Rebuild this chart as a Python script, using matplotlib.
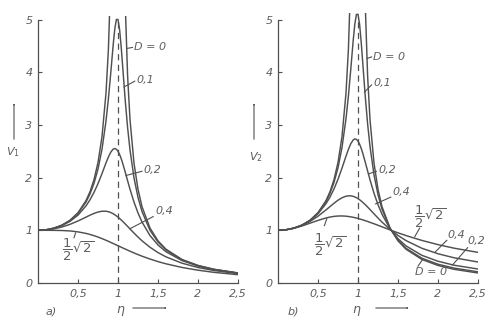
import numpy as np
import matplotlib
matplotlib.use("Agg")
import matplotlib.pyplot as plt
from matplotlib.patches import FancyArrowPatch

plt.rcParams['mathtext.fontset'] = 'dejavusans'

# Frequency ratio eta (read positions)
eta = [0, 0.1, 0.2, 0.3, 0.4, 0.5, 0.6, 0.65, 0.7, 0.75, 0.8, 0.85, 0.88, 0.91,
       0.94, 0.96, 0.98, 1.0, 1.02, 1.04, 1.06, 1.09, 1.12, 1.15, 1.2, 1.25,
       1.3, 1.4, 1.5, 1.6, 1.8, 2.0, 2.2, 2.5]

# Panel a) V1 values
v1_D0 = [1.0, 1.01, 1.042, 1.099, 1.19, 1.333, 1.563, 1.732, 1.961, 2.286, 2.778,
         3.604, 4.433, 5.817, 8.59, 12.76, 25.25, np.nan, 24.75, 12.25, 8.09,
         5.316, 3.931, 3.101, 2.273, 1.778, 1.449, 1.042, 0.8, 0.641, 0.446,
         0.333, 0.26, 0.19]
v1_D01 = [1.0, 1.01, 1.041, 1.097, 1.185, 1.322, 1.536, 1.689, 1.891, 2.162, 2.538,
          3.073, 3.495, 3.994, 4.523, 4.822, 5.001, 5.0, 4.809, 4.476, 4.075,
          3.473, 2.95, 2.525, 1.995, 1.625, 1.356, 1.0, 0.778, 0.628, 0.441,
          0.33, 0.259, 0.19]
v1_D02 = [1.0, 1.009, 1.038, 1.09, 1.17, 1.288, 1.463, 1.579, 1.719, 1.885, 2.076,
          2.279, 2.392, 2.484, 2.541, 2.552, 2.538, 2.5, 2.439, 2.359, 2.264,
          2.106, 1.941, 1.78, 1.536, 1.329, 1.157, 0.9, 0.721, 0.593, 0.425,
          0.322, 0.254, 0.187]
v1_D04 = [1.0, 1.007, 1.028, 1.063, 1.113, 1.177, 1.25, 1.287, 1.32, 1.347, 1.362,
          1.362, 1.353, 1.337, 1.314, 1.295, 1.274, 1.25, 1.224, 1.196, 1.167,
          1.121, 1.074, 1.026, 0.947, 0.872, 0.801, 0.678, 0.577, 0.496, 0.376,
          0.294, 0.237, 0.178]
v1_D07 = [1.0, 1.0, 0.999, 0.996, 0.988, 0.97, 0.941, 0.921, 0.898, 0.872, 0.842,
          0.811, 0.791, 0.77, 0.749, 0.735, 0.721, 0.707, 0.693, 0.679, 0.665,
          0.644, 0.624, 0.603, 0.57, 0.539, 0.509, 0.455, 0.406, 0.364, 0.295,
          0.243, 0.202, 0.158]

# Panel b) V2 values
v2_D0 = v1_D0
v2_D01 = [1.0, 1.01, 1.042, 1.099, 1.189, 1.328, 1.547, 1.704, 1.909, 2.186, 2.571,
          3.117, 3.549, 4.06, 4.602, 4.91, 5.096, 5.099, 4.908, 4.571, 4.166,
          3.555, 3.023, 2.59, 2.052, 1.675, 1.401, 1.039, 0.812, 0.659, 0.469,
          0.356, 0.283, 0.212]
v2_D02 = [1.0, 1.01, 1.041, 1.097, 1.184, 1.314, 1.505, 1.631, 1.785, 1.968, 2.18,
          2.407, 2.536, 2.644, 2.714, 2.733, 2.726, 2.693, 2.634, 2.555, 2.459,
          2.297, 2.127, 1.959, 1.703, 1.486, 1.305, 1.031, 0.841, 0.704, 0.524,
          0.413, 0.338, 0.265]
v2_D04 = [1.0, 1.01, 1.041, 1.093, 1.168, 1.267, 1.387, 1.45, 1.513, 1.571, 1.617,
          1.647, 1.654, 1.654, 1.644, 1.633, 1.619, 1.601, 1.58, 1.556, 1.53,
          1.487, 1.442, 1.394, 1.313, 1.233, 1.156, 1.018, 0.902, 0.805, 0.658,
          0.555, 0.479, 0.398]
v2_D07 = [1.0, 1.01, 1.038, 1.082, 1.135, 1.188, 1.234, 1.251, 1.264, 1.271, 1.272,
          1.268, 1.262, 1.255, 1.247, 1.24, 1.233, 1.225, 1.216, 1.207, 1.198,
          1.183, 1.168, 1.151, 1.124, 1.095, 1.066, 1.008, 0.952, 0.9, 0.807,
          0.728, 0.661, 0.581]

x_ticks = [0.5, 1, 1.5, 2, 2.5]
x_ticklabels = ["0,5", "1", "1,5", "2", "2,5"]
y_ticks = [0, 1, 2, 3, 4, 5]
y_ticklabels = ["0", "1", "2", "3", "4", "5"]

LC = '#505050'
TC = '#5e5e5e'
LW = 1.05
FS = 8
HALF_ROOT2 = r"$\dfrac{1}{2}\sqrt{2}$"

fig = plt.figure(figsize=(4.9, 3.26), dpi=100)
W, H = 490.0, 326.0


def make_ax(x0px, ytop_val):
    y0px = 283.0
    ppu_y = 52.7
    ax = fig.add_axes([x0px / W, (H - y0px) / H, 200.0 / W, ytop_val * ppu_y / H])
    ax.set_xlim(0, 2.5)
    ax.set_ylim(0, ytop_val)
    for s in ['top', 'right']:
        ax.spines[s].set_visible(False)
    for s in ['left', 'bottom']:
        ax.spines[s].set_color(LC)
        ax.spines[s].set_linewidth(0.9)
    ax.spines['left'].set_bounds(0, 5)
    ax.set_xticks(x_ticks)
    ax.set_xticklabels(x_ticklabels)
    ax.set_yticks(y_ticks)
    ax.set_yticklabels(y_ticklabels)
    ax.tick_params(direction='in', length=3, width=0.8, color=LC,
                   labelsize=FS, labelcolor=TC, pad=4)
    for lab in ax.get_xticklabels() + ax.get_yticklabels():
        lab.set_fontstyle('italic')
    ax.patch.set_alpha(0)
    ax.plot([1, 1], [0, 5], color=LC, lw=0.9, ls=(0, (5, 3.5)))
    return ax


def lead(ax, p_from, p_to):
    ax.plot([p_from[0], p_to[0]], [p_from[1], p_to[1]], color=LC, lw=0.8)


def txt(ax, x, y, s, **kw):
    ax.text(x, y, s, fontsize=FS, color=TC, style='italic', **kw)


def frac(ax, x, y):
    ax.text(x, y, HALF_ROOT2, fontsize=9.5, color=TC, va='center')


# ---------- panel a ----------
ax1 = make_ax(38.0, 5.06)
for v in [v1_D0, v1_D01, v1_D02, v1_D04, v1_D07]:
    ax1.plot(eta, v, color=LC, lw=LW)

txt(ax1, 1.20, 4.47, "D = 0", va='center')
lead(ax1, (1.11, 4.45), (1.18, 4.47))
txt(ax1, 1.23, 3.85, "0,1", va='center')
lead(ax1, (1.075, 3.72), (1.21, 3.83))
txt(ax1, 1.32, 2.15, "0,2", va='center')
lead(ax1, (1.10, 2.04), (1.30, 2.12))
txt(ax1, 1.47, 1.37, "0,4", va='center')
lead(ax1, (1.15, 1.03), (1.44, 1.26))
frac(ax1, 0.30, 0.62)
lead(ax1, (0.47, 0.95), (0.45, 0.86))

# ---------- panel b ----------
ax2 = make_ax(278.0, 5.13)
for v in [v2_D0, v2_D01, v2_D02, v2_D04, v2_D07]:
    ax2.plot(eta, v, color=LC, lw=LW)

txt(ax2, 1.19, 4.28, "D = 0", va='center')
lead(ax2, (1.11, 4.26), (1.17, 4.29))
txt(ax2, 1.19, 3.80, "0,1", va='center')
lead(ax2, (1.08, 3.62), (1.17, 3.76))
txt(ax2, 1.25, 2.14, "0,2", va='center')
lead(ax2, (1.13, 2.07), (1.23, 2.12))
txt(ax2, 1.43, 1.72, "0,4", va='center')
lead(ax2, (1.22, 1.50), (1.41, 1.63))
frac(ax2, 0.45, 0.72)
lead(ax2, (0.61, 1.22), (0.58, 1.09))
frac(ax2, 1.70, 1.25)
lead(ax2, (1.71, 0.88), (1.77, 1.04))
txt(ax2, 2.12, 0.92, "0,4", va='center')
lead(ax2, (1.96, 0.58), (2.11, 0.81))
txt(ax2, 2.37, 0.80, "0,2", va='center')
lead(ax2, (2.18, 0.34), (2.37, 0.67))
txt(ax2, 1.71, 0.21, "D = 0", va='center')
lead(ax2, (1.81, 0.45), (1.75, 0.32))

# ---------- axis labels & arrows ----------
def fx(px):
    return px / W


def fy(py):
    return 1 - py / H


arrow_kw = dict(arrowstyle='-|>,head_length=0.5,head_width=0.18', color=LC, lw=0.8)

fig.text(fx(13), fy(152), r"$V_1$", fontsize=FS, color=TC, ha='center', va='center')
fig.add_artist(FancyArrowPatch((fx(14), fy(142)), (fx(14), fy(100)),
                               transform=fig.transFigure, **arrow_kw))
fig.text(fx(256), fy(157), r"$V_2$", fontsize=FS, color=TC, ha='center', va='center')
fig.add_artist(FancyArrowPatch((fx(254), fy(142)), (fx(254), fy(100)),
                               transform=fig.transFigure, **arrow_kw))

fig.text(fx(51), fy(311), "a)", fontsize=FS, color=TC, style='italic', ha='center', va='center')
fig.text(fx(121), fy(311), r"$\eta$", fontsize=FS + 1, color=TC, ha='center', va='center')
fig.add_artist(FancyArrowPatch((fx(130), fy(308)), (fx(170), fy(308)),
                               transform=fig.transFigure, **arrow_kw))

fig.text(fx(293), fy(311), "b)", fontsize=FS, color=TC, style='italic', ha='center', va='center')
fig.text(fx(357), fy(311), r"$\eta$", fontsize=FS + 1, color=TC, ha='center', va='center')
fig.add_artist(FancyArrowPatch((fx(373), fy(308)), (fx(412), fy(308)),
                               transform=fig.transFigure, **arrow_kw))

fig.savefig("out.png", dpi=100, facecolor='white')
